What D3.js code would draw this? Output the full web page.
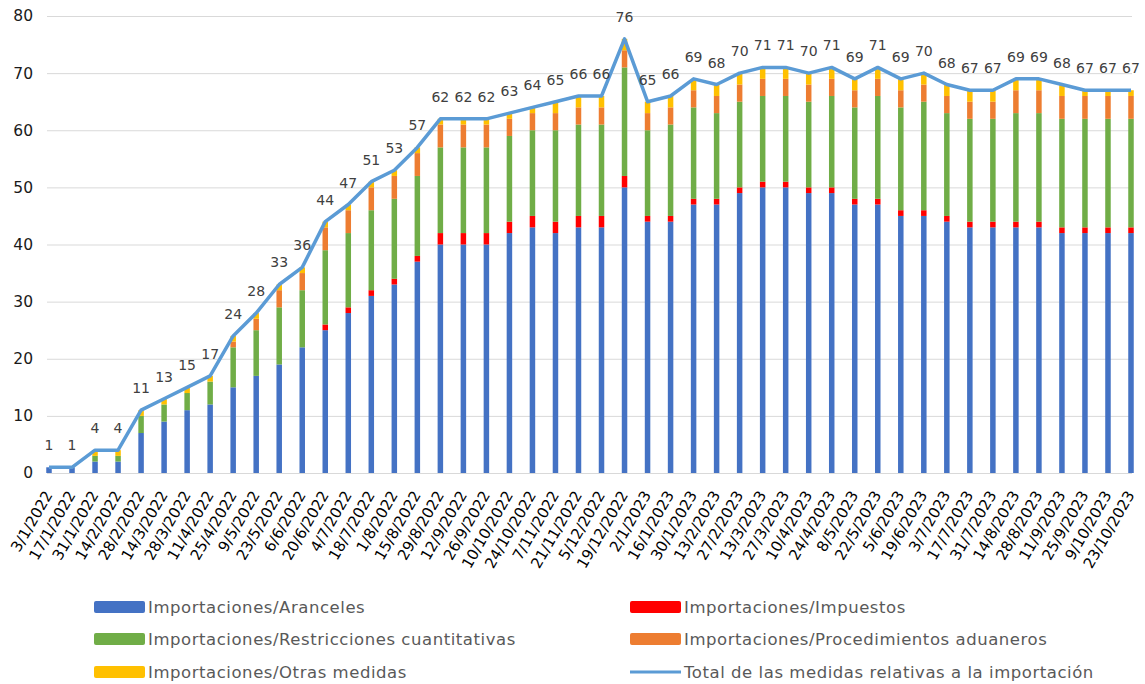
<!DOCTYPE html>
<head>
  <meta charset="utf-8">
  <style>
    body { margin: 0; background: #fff; }
    text { font-family: "DejaVu Sans", Verdana, sans-serif; }
  </style>
</head>
<body>
<script src="https://cdnjs.cloudflare.com/ajax/libs/d3/7.8.5/d3.min.js"></script>
<script>

// fechas (eje x)
var dates = ["3/1/2022","17/1/2022","31/1/2022","14/2/2022","28/2/2022","14/3/2022","28/3/2022","11/4/2022",
  "25/4/2022","9/5/2022","23/5/2022","6/6/2022","20/6/2022","4/7/2022","18/7/2022","1/8/2022",
  "15/8/2022","29/8/2022","12/9/2022","26/9/2022","10/10/2022","24/10/2022","7/11/2022","21/11/2022",
  "5/12/2022","19/12/2022","2/1/2023","16/1/2023","30/1/2023","13/2/2023","27/2/2023","13/3/2023",
  "27/3/2023","10/4/2023","24/4/2023","8/5/2023","22/5/2023","5/6/2023","19/6/2023","3/7/2023",
  "17/7/2023","31/7/2023","14/8/2023","28/8/2023","11/9/2023","25/9/2023","9/10/2023","23/10/2023"];

var aranceles = [1,1,2,2,7,9,11,12,15,17,19,22,25,28,31,33,37,40,40,40,42,43,42,43,
  43,50,44,44,47,47,49,50,50,49,49,47,47,45,45,44,43,43,43,43,42,42,42,42];
var impuestos = [0,0,0,0,0,0,0,0,0,0,0,0,1,1,1,1,1,2,2,2,2,2,2,2,
  2,2,1,1,1,1,1,1,1,1,1,1,1,1,1,1,1,1,1,1,1,1,1,1];
var restricciones = [0,0,1,1,3,3,3,4,7,8,10,10,13,13,14,14,14,15,15,15,15,15,16,16,
  16,19,15,16,16,15,15,15,15,15,16,16,18,18,19,18,18,18,19,19,19,19,19,19];
var procedimientos = [0,0,0,0,0,0,0,0,1,2,3,3,4,4,4,4,4,4,4,4,3,3,3,3,
  3,3,3,3,3,3,3,3,3,3,3,3,3,3,3,3,3,3,4,4,4,4,4,4];
var otras = [0,0,1,1,1,1,1,1,1,1,1,1,1,1,1,1,1,1,1,1,1,1,2,2,
  2,2,2,2,2,2,2,2,2,2,2,2,2,2,2,2,2,2,2,2,2,1,1,1];
var total = [1,1,4,4,11,13,15,17,24,28,33,36,44,47,51,53,57,62,62,62,63,64,65,66,
  66,76,65,66,69,68,70,71,71,70,71,69,71,69,70,68,67,67,69,69,68,67,67,67];

var yTicks = [0,10,20,30,40,50,60,70,80];

var seriesNames = ["Importaciones/Aranceles","Importaciones/Impuestos","Importaciones/Restricciones cuantitativas",
  "Importaciones/Procedimientos aduaneros","Importaciones/Otras medidas"];
var seriesColors = ["#4472C4","#FF0000","#70AD47","#ED7D31","#FFC000"];
var lineName = "Total de las medidas relativas a la importación";
var lineColor = "#5B9BD5";

var width = 1145, height = 684;

var svg = d3.select("body").append("svg")
    .attr("width", width)
    .attr("height", height);

var x = d3.scalePoint()
    .domain(dates)
    .range([49, 1131]);

var y = d3.scaleLinear()
    .domain([0, 80])
    .range([473, 16]);

// rejilla
svg.append("g")
  .selectAll("line")
  .data(yTicks)
  .enter()
  .append("line")
    .attr("x1", 47)
    .attr("x2", 1132)
    .attr("y1", function(d) { return y(d) + 0.5; })
    .attr("y2", function(d) { return y(d) + 0.5; })
    .attr("stroke", "#D9D9D9")
    .attr("stroke-width", 1);

var yAxis = svg.append("g")
    .attr("transform", "translate(47,0)")
    .call(d3.axisLeft(y).tickValues(yTicks).tickSize(0).tickPadding(14));
yAxis.select(".domain").remove();
yAxis.selectAll("text")
    .style("font-size", "15.5px")
    .style("font-family", "'DejaVu Sans', Verdana, sans-serif")
    .attr("fill", "#1a1a1a");

// barras apiladas
var rows = dates.map(function(d, i) {
  return { date: d, s0: aranceles[i], s1: impuestos[i], s2: restricciones[i], s3: procedimientos[i], s4: otras[i] };
});
var stack = d3.stack().keys(["s0","s1","s2","s3","s4"]);
var layers = stack(rows);

var barW = 5.5;
svg.append("g")
  .selectAll("g")
  .data(layers)
  .enter()
  .append("g")
    .attr("fill", function(d, i) { return seriesColors[i]; })
  .selectAll("rect")
  .data(function(d) { return d; })
  .enter()
  .append("rect")
    .attr("x", function(d) { return x(d.data.date) - barW / 2; })
    .attr("y", function(d) { return y(d[1]); })
    .attr("width", barW)
    .attr("height", function(d) { return y(d[0]) - y(d[1]); });

// eje x
var xAxis = svg.append("g")
    .attr("transform", "translate(0,473)")
    .call(d3.axisBottom(x).tickSize(0).tickPadding(0));
xAxis.select(".domain").remove();
xAxis.selectAll("text")
    .style("font-size", "15px")
    .style("font-family", "'DejaVu Sans', Verdana, sans-serif")
    .attr("fill", "#000")
    .attr("text-anchor", "end")
    .attr("dy", "0.35em")
    .attr("y", 0)
    .attr("transform", "translate(-1,19) rotate(-60)");

// línea total
var line = d3.line()
    .x(function(d, i) { return x(dates[i]); })
    .y(function(d) { return y(d); });

svg.append("path")
    .datum(total)
    .attr("d", line)
    .attr("fill", "none")
    .attr("stroke", lineColor)
    .attr("stroke-width", 3.5)
    .attr("stroke-linejoin", "round");

svg.append("g")
  .selectAll("text")
  .data(total)
  .enter()
  .append("text")
    .attr("x", function(d, i) { return x(dates[i]); })
    .attr("y", function(d) { return y(d) - 17; })
    .attr("text-anchor", "middle")
    .style("font-size", "14px")
    .attr("fill", "#404040")
    .text(function(d) { return d; });

// leyenda
var legendItems = [
  { name: seriesNames[0], color: seriesColors[0], col: 0, row: 0 },
  { name: seriesNames[1], color: seriesColors[1], col: 1, row: 0 },
  { name: seriesNames[2], color: seriesColors[2], col: 0, row: 1 },
  { name: seriesNames[3], color: seriesColors[3], col: 1, row: 1 },
  { name: seriesNames[4], color: seriesColors[4], col: 0, row: 2 },
  { name: lineName, color: lineColor, col: 1, row: 2, line: true }
];
var colX = [94, 630], rowY = [607, 639, 672];

var legend = svg.append("g")
  .selectAll("g")
  .data(legendItems)
  .enter()
  .append("g")
    .attr("transform", function(d) { return "translate(" + colX[d.col] + "," + rowY[d.row] + ")"; });

legend.filter(function(d) { return !d.line; })
  .append("rect")
    .attr("x", 0)
    .attr("y", -6)
    .attr("width", 51)
    .attr("height", 12)
    .attr("rx", 2)
    .attr("fill", function(d) { return d.color; });

legend.filter(function(d) { return d.line; })
  .append("line")
    .attr("x1", 0)
    .attr("x2", 51)
    .attr("stroke", function(d) { return d.color; })
    .attr("stroke-width", 3);

legend.append("text")
    .attr("x", 54)
    .attr("dy", "0.35em")
    .style("font-size", "16.5px")
    .style("letter-spacing", "0.55px")
    .attr("fill", "#595959")
    .text(function(d) { return d.name; });

</script>
</body>
